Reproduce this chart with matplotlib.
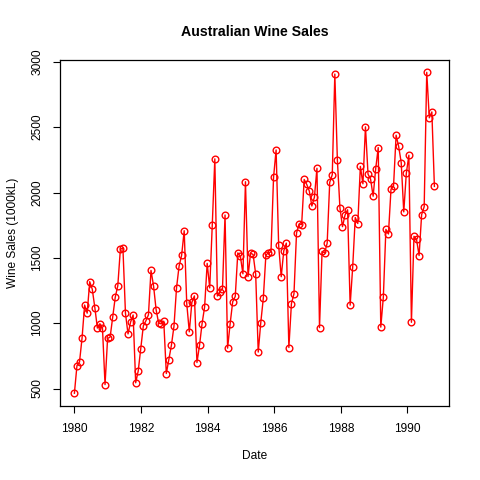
import numpy as np
import matplotlib
matplotlib.use("Agg")
import matplotlib.pyplot as plt

plt.rcParams['font.family'] = ['Liberation Sans', 'DejaVu Sans']

# Australian wine sales (1000kL), one observation every 28 days from Jan 1980
sales = [464, 675, 703, 887, 1139, 1077, 1318, 1260, 1120, 963, 996, 960,
         530, 883, 894, 1045, 1199, 1287, 1565, 1577, 1076, 918, 1008, 1063,
         544, 635, 804, 980, 1018, 1064, 1404, 1286, 1104, 999, 996, 1015,
         615, 722, 832, 977, 1270, 1437, 1520, 1708, 1151, 934, 1159, 1209,
         699, 830, 996, 1124, 1458, 1270, 1753, 2258, 1208, 1241, 1265, 1828,
         809, 997, 1164, 1205, 1538, 1513, 1378, 2083, 1357, 1536, 1526, 1376,
         779, 1005, 1193, 1522, 1539, 1546, 2116, 2326, 1596, 1356, 1553, 1613,
         814, 1150, 1225, 1691, 1759, 1754, 2100, 2062, 2012, 1897, 1964, 2186,
         966, 1549, 1538, 1612, 2078, 2137, 2907, 2249, 1883, 1739, 1828, 1868,
         1138, 1430, 1809, 1763, 2200, 2067, 2503, 2141, 2103, 1972, 2181, 2344,
         970, 1199, 1718, 1683, 2025, 2051, 2439, 2353, 2230, 1852, 2147, 2286,
         1007, 1665, 1642, 1518, 1831, 1892, 2920, 2572, 2617, 2047]
dates = 1980 + np.arange(len(sales)) * 28 / 365.25
xticks = [1980, 1982, 1984, 1986, 1988, 1990]
yticks = [500, 1000, 1500, 2000, 2500, 3000]

fig = plt.figure(figsize=(4.8, 4.8), dpi=100)
ax = fig.add_axes([0.125, 0.154, 0.81, 0.722])

ax.plot(dates, sales, color='red', lw=1, marker='o', ms=4.8,
        mfc='none', mec='red', mew=1)

# R-style 4% padding
xr = dates[-1] - dates[0]
ax.set_xlim(dates[0] - 0.04 * xr, dates[-1] + 0.04 * xr)
yr = max(sales) - min(sales)
ax.set_ylim(min(sales) - 0.04 * yr, max(sales) + 0.04 * yr)

ax.set_xticks(xticks)
ax.set_yticks(yticks)
ax.set_yticklabels([str(v) for v in yticks], rotation=90, va='center')
ax.tick_params(direction='out', length=5, width=0.8, labelsize=8.6, pad=7)
for s in ax.spines.values():
    s.set_linewidth(0.9)

ax.set_title("Australian Wine Sales", fontsize=10.2, fontweight='bold', pad=17)
ax.set_xlabel("Date", fontsize=8.6, labelpad=11)
ax.set_ylabel("Wine Sales (1000kL)", fontsize=8.6, labelpad=9)

fig.savefig("out.png", dpi=100)
